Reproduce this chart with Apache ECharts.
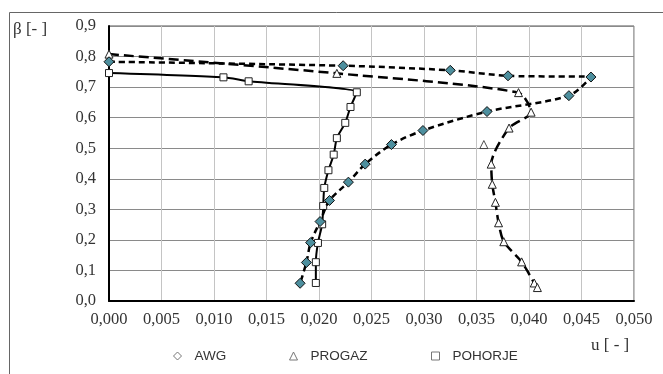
<!DOCTYPE html>
<html>
<head>
<meta charset="utf-8">
<script src="https://cdn.jsdelivr.net/npm/echarts@6/dist/echarts.min.js"></script>
<style>
html,body{margin:0;padding:0;background:#fff;}
#c{width:663px;height:374px;}
</style>
</head>
<body>
<div id="c"></div>
<script>
// AWG (diamonds)
var awgU    = [0.0000, 0.0223, 0.0325, 0.0380, 0.0459, 0.0438, 0.0360, 0.0299, 0.0269, 0.0244, 0.0228, 0.0210, 0.0201, 0.0192, 0.0188, 0.0182];
var awgBeta = [0.783, 0.770, 0.755, 0.737, 0.733, 0.672, 0.620, 0.558, 0.512, 0.448, 0.389, 0.329, 0.260, 0.191, 0.126, 0.058];
// PROGAZ (triangles) on the curve
var progazU    = [0.0000, 0.0217, 0.0390, 0.0402, 0.0381, 0.0364, 0.0365, 0.0368, 0.0371, 0.0376, 0.0393, 0.0405, 0.0408];
var progazBeta = [0.808, 0.745, 0.682, 0.618, 0.566, 0.448, 0.382, 0.323, 0.256, 0.194, 0.128, 0.059, 0.044];
// PROGAZ point off the curve
var progazExtraU    = [0.0357];
var progazExtraBeta = [0.512];
// POHORJE (squares)
var pohU    = [0.0000, 0.0109, 0.0133, 0.0236, 0.0230, 0.0225, 0.0217, 0.0214, 0.0209, 0.0205, 0.0204, 0.0203, 0.0199, 0.0197, 0.0197];
var pohBeta = [0.746, 0.732, 0.719, 0.683, 0.635, 0.583, 0.533, 0.479, 0.428, 0.370, 0.311, 0.251, 0.190, 0.127, 0.059];

var seriesNames = ['AWG', 'PROGAZ', 'POHORJE'];
var xAxisName = 'u [ - ]';
var yAxisName = 'β [- ]';

function pairs(a, b) { return a.map(function (v, i) { return [v, b[i]]; }); }

var chart = echarts.init(document.getElementById('c'), null, {renderer: 'canvas'});
var serif = '"Liberation Serif", "Times New Roman", serif';
var sans = '"Liberation Sans", Arial, sans-serif';

function legendItem(name, icon, left) {
  return {
    left: left, top: 344, itemWidth: 8, itemHeight: 8, selectedMode: false,
    textStyle: {fontFamily: sans, fontSize: 13.5, color: '#333', padding: [0, 0, 0, 8]},
    data: [{name: name, icon: icon, itemStyle: {color: '#fff', borderColor: '#777', borderWidth: 1}}]
  };
}

chart.setOption({
  animation: false,
  backgroundColor: '#fff',
  grid: {left: 109, right: 29, top: 26, bottom: 73, show: true, borderColor: '#555', borderWidth: 1},
  legend: [
    legendItem(seriesNames[0], 'diamond', 168),
    legendItem(seriesNames[1], 'triangle', 284),
    legendItem(seriesNames[2], 'rect', 426)
  ],
  xAxis: {
    type: 'value', min: 0, max: 0.05, interval: 0.005,
    axisLine: {lineStyle: {color: '#000', width: 2}},
    axisTick: {show: false},
    axisLabel: {fontFamily: serif, fontSize: 16.5, color: '#333', margin: 10,
      formatter: function (v) { return v.toFixed(3).replace('.', ','); }},
    splitLine: {lineStyle: {color: '#c4c4c4', width: 1}}
  },
  yAxis: {
    type: 'value', min: 0, max: 0.9, interval: 0.1,
    axisLine: {lineStyle: {color: '#000', width: 2}},
    axisTick: {show: false},
    axisLabel: {fontFamily: serif, fontSize: 16.5, color: '#333', margin: 13,
      formatter: function (v) { return v.toFixed(1).replace('.', ','); }},
    splitLine: {lineStyle: {color: '#8a8a8a', width: 1}}
  },
  graphic: [
    {type: 'rect', shape: {x: 9.5, y: 12.5, width: 700, height: 400}, style: {fill: 'none', stroke: '#666', lineWidth: 1}, silent: true},
    {type: 'text', left: 13, top: 21, style: {text: yAxisName, font: '17px ' + serif, fill: '#333'}},
    {type: 'text', left: 591, top: 337, style: {text: xAxisName, font: '17px ' + serif, fill: '#333'}}
  ],
  series: [
    {
      name: seriesNames[2], type: 'line', smooth: 0.22, z: 3,
      data: pairs(pohU, pohBeta),
      lineStyle: {color: '#000', width: 2},
      symbol: 'rect', symbolSize: 7,
      itemStyle: {color: '#fff', borderColor: '#222', borderWidth: 1}
    },
    {
      name: seriesNames[1], type: 'line', smooth: 0.25, z: 4,
      data: pairs(progazU, progazBeta),
      lineStyle: {color: '#000', width: 2.5, type: [10, 5]},
      symbol: 'triangle', symbolSize: 8,
      itemStyle: {color: '#fff', borderColor: '#222', borderWidth: 1}
    },
    {
      name: seriesNames[1], type: 'scatter', z: 4,
      data: pairs(progazExtraU, progazExtraBeta),
      symbol: 'triangle', symbolSize: 8,
      itemStyle: {color: '#fff', borderColor: '#222', borderWidth: 1}
    },
    {
      name: seriesNames[0], type: 'line', smooth: 0.3, z: 5,
      data: pairs(awgU, awgBeta),
      lineStyle: {color: '#000', width: 2.5, type: [6, 4]},
      symbol: 'diamond', symbolSize: 10,
      itemStyle: {color: '#4d8f9e', borderColor: '#111', borderWidth: 1}
    }
  ]
});
</script>
</body>
</html>
